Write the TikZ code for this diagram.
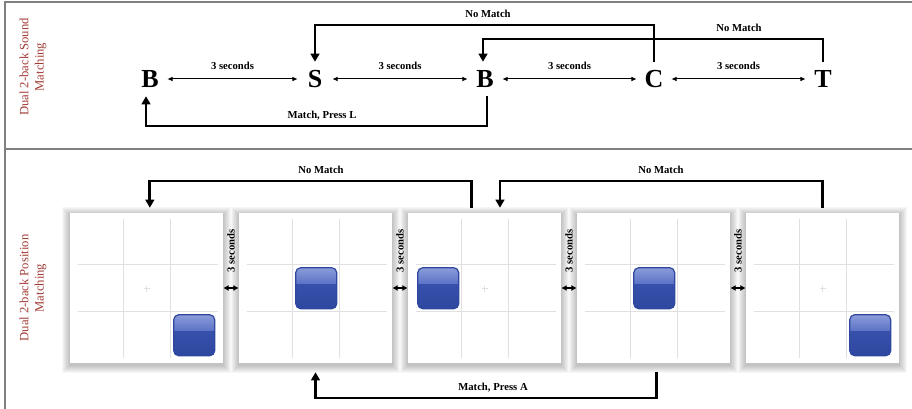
\documentclass[tikz,border=0pt]{standalone}
\usepackage{fontspec}
\setmainfont{Liberation Serif}
\usetikzlibrary{arrows.meta,calc}
\definecolor{lbl}{HTML}{A33B35}
\definecolor{framec}{HTML}{808080}
\definecolor{gridc}{HTML}{E0E0E0}
\definecolor{sqbase}{HTML}{3D57B3}
\definecolor{sqdark}{HTML}{2E479F}
\definecolor{sqlight}{HTML}{8C9CDA}
\definecolor{sqmid}{HTML}{5C72C6}
\newcommand\bsq[2]{%
  \begin{scope}
    \clip[rounded corners=3.75pt] (#1,#2) rectangle ++(41,41);
    \shade[top color=sqbase, bottom color=sqdark] (#1,#2) rectangle ++(41,41);
    \shade[top color=sqlight, bottom color=sqmid] (#1,#2) rectangle ++(41,16);
  \end{scope}
  \draw[sqdark, line width=0.9pt, rounded corners=3.75pt] (#1,#2) rectangle ++(41,41);
}
\newcommand\pgrid{%
  \draw[gridc, line width=0.8pt] (54,6) -- (54,145) (101,6) -- (101,145)
     (8,52) -- (148,52) (8,99) -- (148,99);
  \draw[gridc, line width=0.5pt] (74,76) -- (80,76) (77,73) -- (77,79);
}
\begin{document}
\begin{tikzpicture}[x=0.75pt,y=-0.75pt,
  letter/.style={font=\fontsize{19.5}{19.5}\selectfont\bfseries, minimum width=25.5pt, minimum height=25.5pt, inner sep=0pt},
  small/.style={font=\fontsize{8}{9}\selectfont\bfseries, inner sep=0pt},
  sidelabel/.style={text=lbl, rotate=90, align=center, font=\fontsize{9.5}{11.5}\selectfont},
  timearrow/.style={{Latex[length=4pt,width=3.5pt]}-{Latex[length=4pt,width=3.5pt]}, line width=0.75pt},
  gaparrow/.style={{Latex[length=4pt,width=4.5pt]}-{Latex[length=4pt,width=4.5pt]}, line width=1.5pt},
  flow/.style={-{Triangle[length=6pt,width=6.5pt]}, line width=2.2pt},
  panel/.style={draw=none, fill=white, minimum width=114.75pt, minimum height=112.5pt, inner sep=0pt},
]
\useasboundingbox (0,0) rectangle (912,409);
\fill[white] (0,0) rectangle (912,409);
% frame
\draw[framec, line width=1pt] (912,2) -- (5,2) -- (5,409);
\draw[framec, line width=1pt] (5,149) -- (912,149);

% ---------- top: sound matching ----------
\node[sidelabel] (lab1) at (33,67) {Dual 2-back Sound\\Matching};
\node[letter] (B1) at (150,79) {B};
\node[letter] (S)  at (315,79) {S};
\node[letter] (B2) at (485,79) {B};
\node[letter] (C)  at (654,79) {C};
\node[letter] (T)  at (823,79) {T};
\foreach \a/\b in {B1/S,S/B2,B2/C,C/T}
  \draw[timearrow] (\a) -- (\b) node[midway, yshift=9.5pt, small] {3 seconds};

\coordinate (nm1) at (488,25);
\coordinate (nm2) at (739,39);
\coordinate (mp)  at (322,126);
\draw[flow] (C.north) |- (nm1) -| (S.north);
\node[small, above=5.5pt] at (nm1) {No Match};
\draw[flow] (T.north) |- (nm2) -| ([xshift=-1.5pt]B2.north);
\node[small, above=5.5pt] at (nm2) {No Match};
\draw[flow] ([xshift=1.5pt]B2.south) |- (mp) -| ([xshift=-3pt]B1.south);
\node[small, above=4.5pt] at (mp) {Match, Press L};

% ---------- bottom: position matching ----------
\node[sidelabel] (lab2) at (33,288) {Dual 2-back Position\\Matching};
\foreach \i in {0,...,4} {
  \pgfmathsetmacro\px{70+169*\i}
  \foreach \k in {1,...,8}
    \fill[black, opacity=0.03] (\px-\k, 213-\k+2) rectangle (\px+153+\k, 363+\k+2);
}
\node[panel] (p1) at (146.5,288) {};
\node[panel] (p2) at (315.5,288) {};
\node[panel] (p3) at (484.5,288) {};
\node[panel] (p4) at (653.5,288) {};
\node[panel] (p5) at (822.5,288) {};
\begin{scope}[shift={(p1.north west)}] \pgrid \bsq{104}{102} \end{scope}
\begin{scope}[shift={(p2.north west)}] \pgrid \bsq{57}{55} \end{scope}
\begin{scope}[shift={(p3.north west)}] \pgrid \bsq{10}{55} \end{scope}
\begin{scope}[shift={(p4.north west)}] \pgrid \bsq{57}{55} \end{scope}
\begin{scope}[shift={(p5.north west)}] \pgrid \bsq{104}{102} \end{scope}

\foreach \a/\b in {p1/p2,p2/p3,p3/p4,p4/p5}
  \draw[gaparrow] (\a.east) -- (\b.west)
     node[midway, yshift=27.75pt, rotate=90, small] {3 seconds};

\coordinate (nm3) at (321,181);
\coordinate (nm4) at (661,181);
\coordinate (ma)  at (493,398);
\draw[flow, shorten <=3.75pt, shorten >=3.75pt] ([xshift=48pt]p3.north west) |- (nm3) -| ([xshift=2.5pt]p1.north);
\node[small, above=5.5pt] at (nm3) {No Match};
\draw[flow, shorten <=3.75pt, shorten >=3.75pt] (p5.north) |- (nm4) -| ([xshift=11.6pt]p3.north);
\node[small, above=5.5pt] at (nm4) {No Match};
\draw[flow, shorten <=6.75pt, shorten >=6.75pt] ([xshift=2pt]p4.south) |- (ma) -| (p2.south);
\node[small, above=4.5pt] at (ma) {Match, Press A};
\end{tikzpicture}
\end{document}
